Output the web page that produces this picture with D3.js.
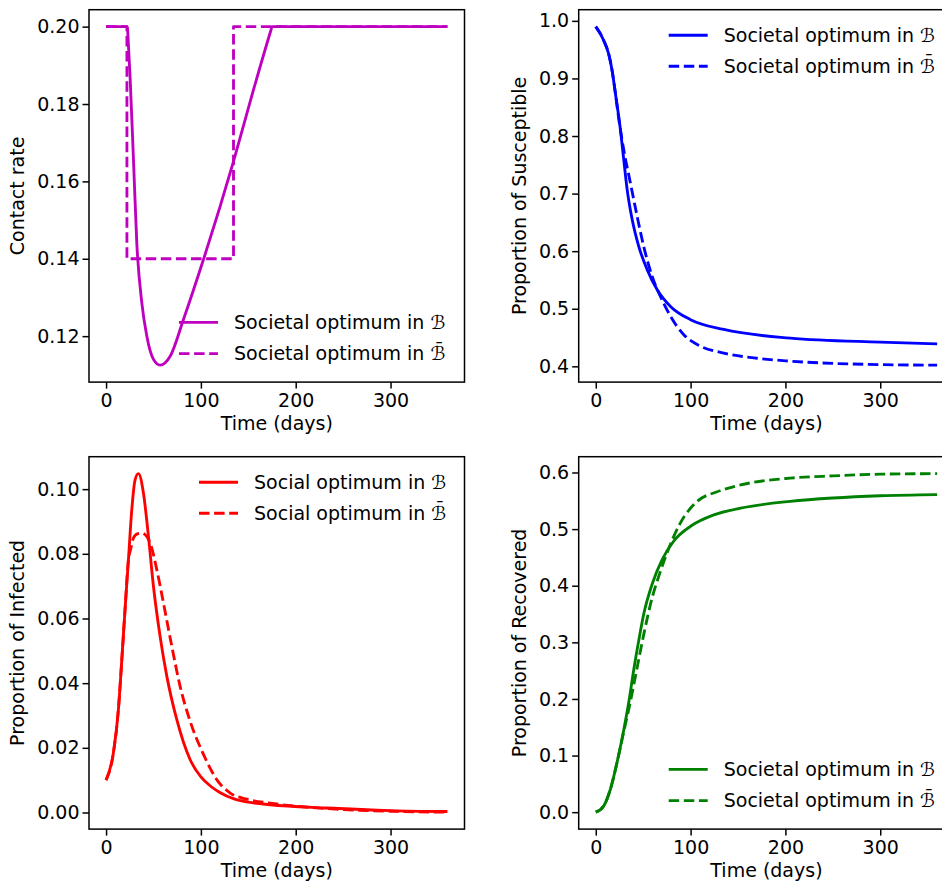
<!DOCTYPE html>
<html>
<head>
<meta charset="utf-8">
<script src="https://cdn.jsdelivr.net/npm/d3@7"></script>
<style>
  body { margin: 0; background: #fff; }
  text { font-family: "DejaVu Sans", sans-serif; fill: #000; }
</style>
</head>
<body>
<script>
// ---- data (time in days) ----
const xTicks = [0, 100, 200, 300];

// contact rate
const tRateB = [0, 22.5, 23.2, 25.3, 28.9, 32.4, 37.7, 43, 50, 57, 67.6, 81.6, 102.7, 134.4, 155.5, 174, 175, 360];
const rateB  = [0.2, 0.2, 0.197, 0.1871, 0.1656, 0.1441, 0.1286, 0.12, 0.114, 0.1125, 0.1148, 0.1243, 0.1398, 0.1652, 0.1837, 0.1992, 0.2, 0.2];
const tRateBbar = [0, 22, 22, 134.4, 134.4, 360];
const rateBbar  = [0.2, 0.2, 0.14, 0.14, 0.2, 0.2];
const rateTicks = [0.12, 0.14, 0.16, 0.18, 0.20];

// susceptible
const tSusB = [0, 8.4, 13.7, 17.3, 20.8, 26, 29.5, 33.1, 38.4, 45.4, 54.2, 64.8, 78.8, 100, 135, 205, 300, 360];
const susB  = [0.99, 0.966, 0.942, 0.913, 0.873, 0.811, 0.759, 0.707, 0.655, 0.608, 0.568, 0.533, 0.504, 0.481, 0.464, 0.449, 0.442, 0.439];
const tSusBbar = [0, 8.4, 13.7, 17.3, 20.8, 24, 29.5, 36.6, 43.7, 50.6, 59.5, 68.3, 78.8, 92.8, 110.4, 135, 170, 205, 300, 360];
const susBbar  = [0.99, 0.966, 0.942, 0.913, 0.873, 0.833, 0.776, 0.718, 0.660, 0.608, 0.556, 0.521, 0.487, 0.455, 0.435, 0.423, 0.414, 0.409, 0.403, 0.402];
const susTicks = [0.4, 0.5, 0.6, 0.7, 0.8, 0.9, 1.0];

// infected
const tInfB = [0, 7.7, 13, 16.6, 20, 23.6, 27.1, 30.6, 34.1, 39.4, 44.7, 50, 57, 64.1, 74.6, 88.7, 100, 110, 120, 135, 150, 173, 233, 300, 360];
const infB  = [0.0100, 0.0184, 0.0318, 0.0473, 0.0627, 0.0782, 0.0936, 0.1029, 0.1048, 0.0988, 0.0854, 0.0699, 0.0544, 0.0421, 0.0287, 0.0163, 0.0110, 0.0082, 0.0062, 0.0042, 0.0032, 0.0024, 0.0014, 0.0006, 0.0003];
const tInfBbar = [0, 7.7, 13, 16.6, 20, 23.6, 26, 28.9, 33, 37.7, 46.5, 53.5, 60.5, 69.4, 78.1, 88.7, 102.7, 116.9, 131, 148.6, 173, 233, 300, 360];
const infBbar  = [0.0100, 0.0184, 0.0318, 0.0473, 0.0627, 0.0782, 0.0815, 0.0849, 0.0862, 0.0864, 0.0833, 0.0751, 0.0648, 0.0513, 0.0390, 0.0282, 0.0180, 0.0101, 0.0060, 0.0041, 0.0029, 0.0012, 0.0004, 0.0001];
const infTicks = [0.00, 0.02, 0.04, 0.06, 0.08, 0.10];

// recovered
const tRecB = [0, 8.4, 15.5, 22.6, 29.5, 34.8, 40.1, 45.5, 50.6, 59.5, 70, 82.3, 100, 124.5, 152.6, 205, 250, 300, 360];
const recB  = [0, 0.011, 0.041, 0.089, 0.145, 0.194, 0.252, 0.305, 0.350, 0.403, 0.446, 0.479, 0.505, 0.525, 0.537, 0.549, 0.555, 0.559, 0.561];
const tRecBbar = [0, 8.4, 15.5, 22.6, 29.5, 36.6, 43.7, 50.6, 59.5, 68.3, 77, 89.3, 107, 128, 152.6, 205, 250, 300, 360];
const recBbar  = [0, 0.011, 0.041, 0.089, 0.142, 0.196, 0.256, 0.314, 0.379, 0.426, 0.466, 0.511, 0.549, 0.566, 0.578, 0.590, 0.594, 0.597, 0.598];
const recTicks = [0.0, 0.1, 0.2, 0.3, 0.4, 0.5, 0.6];

const zip = (ts, vs) => ts.map((t, i) => ({t: t, v: vs[i]}));

const width = 942, height = 883;
const pw = 375.5, ph = 372.4;
const fontSize = 19, lw = 2.85;

const svg = d3.select("body")
    .append("svg")
    .attr("width", width)
    .attr("height", height);

const panels = [
  {left: 89, top: 9.7, color: "#bf00bf", ylabel: "Contact rate", word: "Societal",
   a: zip(tRateB, rateB), b: zip(tRateBbar, rateBbar), bLinear: true,
   ticks: rateTicks, fmt: ".2f", legend: "lower"},
  {left: 578.7, top: 9.7, color: "#0000ff", ylabel: "Proportion of Susceptible", word: "Societal",
   a: zip(tSusB, susB), b: zip(tSusBbar, susBbar),
   ticks: susTicks, fmt: ".1f", legend: "upper"},
  {left: 89, top: 456.7, color: "#ff0000", ylabel: "Proportion of Infected", word: "Social",
   a: zip(tInfB, infB), b: zip(tInfBbar, infBbar),
   ticks: infTicks, fmt: ".2f", legend: "upper", legendX: 110},
  {left: 578.7, top: 456.7, color: "#008000", ylabel: "Proportion of Recovered", word: "Societal",
   a: zip(tRecB, recB), b: zip(tRecBbar, recBbar),
   ticks: recTicks, fmt: ".1f", legend: "lower"}
];

panels.forEach(function(p) {
    const g = svg.append("g").attr("transform", `translate(${p.left},${p.top})`);

    // matplotlib-style 5% margins around the data
    const xExt = d3.extent(p.a.concat(p.b), d => d.t);
    const yExt = d3.extent(p.a.concat(p.b), d => d.v);
    const xPad = (xExt[1] - xExt[0]) * 0.05, yPad = (yExt[1] - yExt[0]) * 0.05;

    const x = d3.scaleLinear().domain([xExt[0] - xPad, xExt[1] + xPad]).range([0, pw]);
    const y = d3.scaleLinear().domain([yExt[0] - yPad, yExt[1] + yPad]).range([ph, 0]);

    const gx = g.append("g")
        .attr("transform", `translate(0,${ph})`)
        .call(d3.axisBottom(x).tickValues(xTicks).tickSize(6.5).tickPadding(4.5).tickFormat(d3.format("d")));
    const gy = g.append("g")
        .call(d3.axisLeft(y).tickValues(p.ticks).tickSize(6.5).tickPadding(3).tickFormat(d3.format(p.fmt)));
    [gx, gy].forEach(a => {
        a.select(".domain").remove();
        a.selectAll(".tick line").attr("stroke", "#000").attr("stroke-width", 1.5);
        a.selectAll(".tick text").attr("font-size", fontSize).attr("font-family", "DejaVu Sans").attr("fill", "#000");
    });

    const line = d3.line().x(d => x(d.t)).y(d => y(d.v)).curve(d3.curveMonotoneX);
    const lineLin = d3.line().x(d => x(d.t)).y(d => y(d.v));

    g.append("path")
        .datum(p.b)
        .attr("fill", "none")
        .attr("stroke", p.color)
        .attr("stroke-width", lw)
        .attr("stroke-dasharray", "10.5,4.6")
        .attr("stroke-linejoin", "round")
        .attr("d", p.bLinear ? lineLin : line);
    g.append("path")
        .datum(p.a)
        .attr("fill", "none")
        .attr("stroke", p.color)
        .attr("stroke-width", lw)
        .attr("stroke-linejoin", "round")
        .attr("d", line);

    g.append("rect")
        .attr("width", pw).attr("height", ph)
        .attr("fill", "none").attr("stroke", "#000").attr("stroke-width", 1.5);

    g.append("text")
        .attr("x", pw / 2).attr("y", ph + 48)
        .attr("text-anchor", "middle")
        .attr("font-size", fontSize)
        .text("Time (days)");

    const yb = gy.node().getBBox();
    g.append("text")
        .attr("transform", `translate(${yb.x - 13},${ph / 2}) rotate(-90)`)
        .attr("text-anchor", "middle")
        .attr("font-size", fontSize)
        .text(p.ylabel);

    // legend
    const lx = p.legendX || 90;
    const rows = p.legend === "upper" ? [25.5, 56.5] : [ph - 59.7, ph - 28.5];
    const items = [
        {dash: null, sym: "\u212C"},
        {dash: "10.5,4.6", sym: "\u212C\u0304"}
    ];
    items.forEach(function(it, i) {
        g.append("line")
            .attr("x1", lx).attr("x2", lx + 39)
            .attr("y1", rows[i]).attr("y2", rows[i])
            .attr("stroke", p.color)
            .attr("stroke-width", lw)
            .attr("stroke-dasharray", it.dash);
        const t = g.append("text")
            .attr("x", lx + 55).attr("y", rows[i] + 6.5)
            .attr("font-size", fontSize)
            .text(p.word + " optimum in ");
        t.append("tspan").attr("font-style", "italic").text(it.sym);
    });
});
</script>
</body>
</html>
